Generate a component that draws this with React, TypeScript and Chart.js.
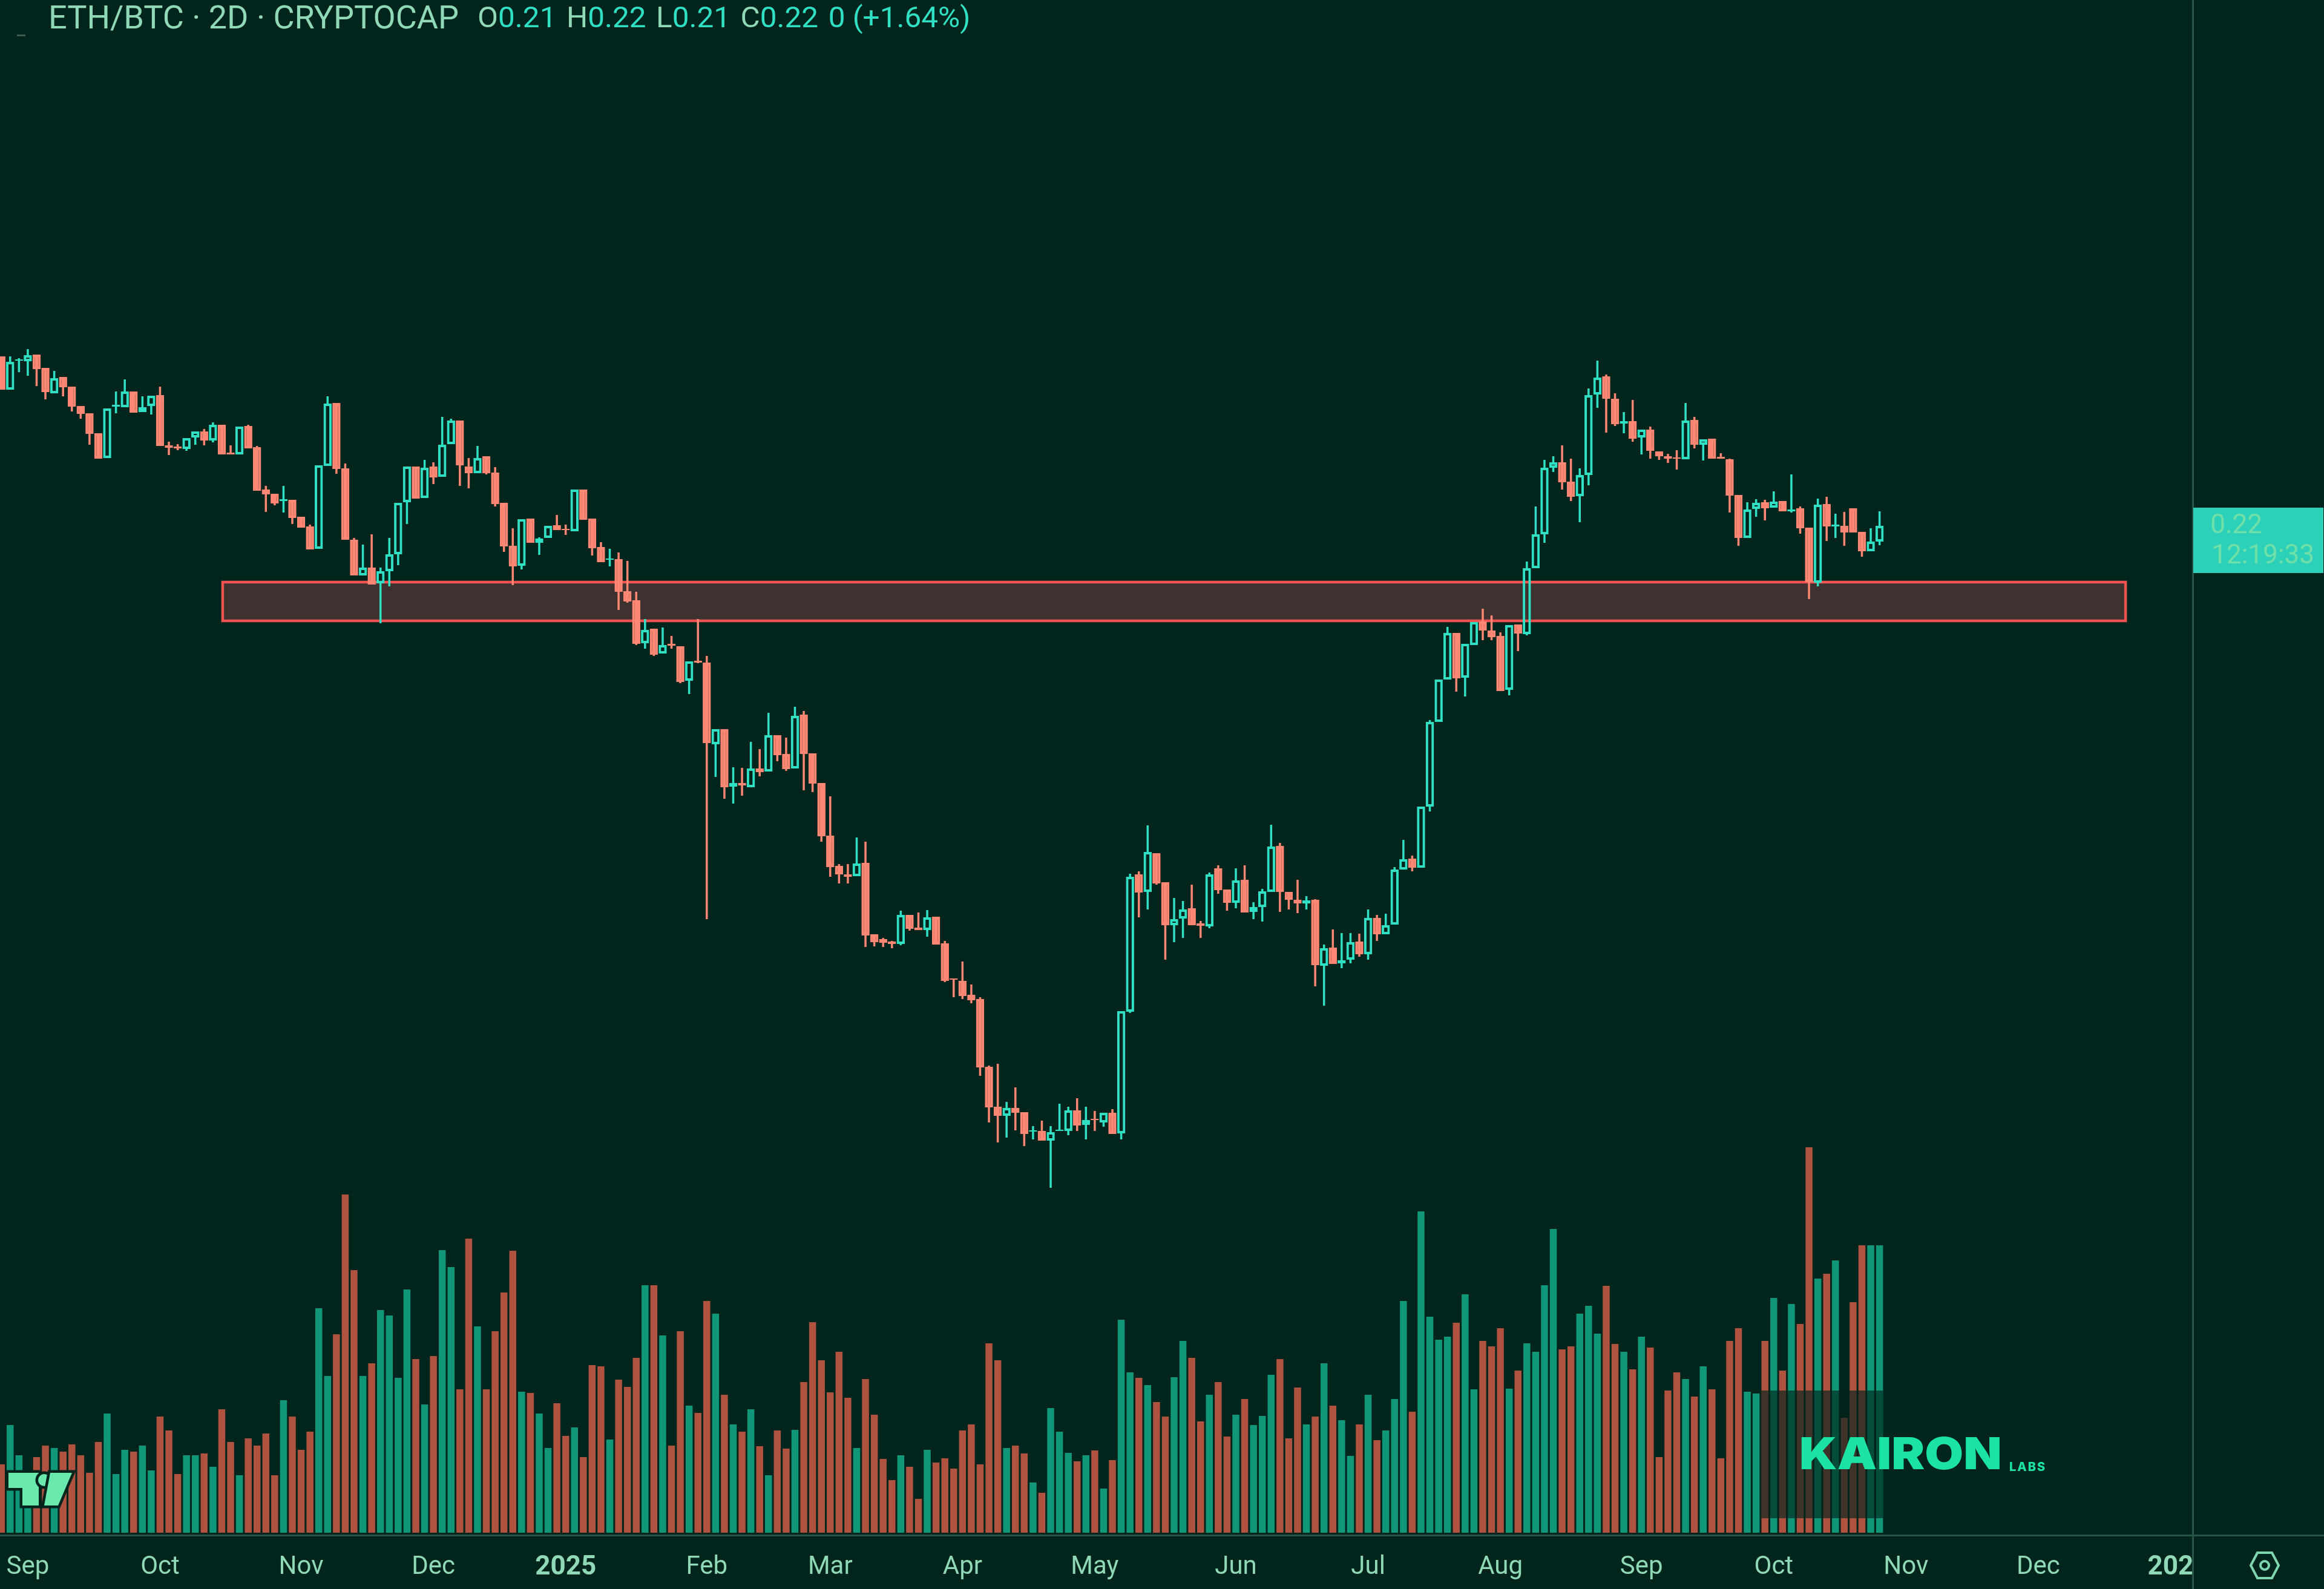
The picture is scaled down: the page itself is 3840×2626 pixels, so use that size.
import React, { useEffect, useRef } from "react";
import { Chart, registerables } from "chart.js";

Chart.register(...registerables);

// prices are in units of 0.0001, one bar every 2 days
const opens = [
  2481, 2426, 2474, 2473, 2484, 2462, 2420, 2447, 2431, 2399,
  2387, 2354, 2313, 2398, 2397, 2423, 2389, 2399, 2417, 2334,
  2332, 2328, 2347, 2357, 2342, 2368, 2322, 2319, 2366, 2331,
  2261, 2254, 2242, 2244, 2216, 2200, 2163, 2300, 2404, 2296,
  2178, 2119, 2132, 2106, 2126, 2154, 2240, 2299, 2247, 2299,
  2282, 2336, 2375, 2299, 2288, 2316, 2289, 2239, 2168, 2135,
  2213, 2173, 2181, 2202, 2196, 2192, 2261, 2213, 2166, 2145,
  2146, 2093, 2078, 2007, 2031, 1990, 2006, 2002, 1945, 1978,
  1975, 1840, 1865, 1770, 1776, 1769, 1800, 1795, 1855, 1824,
  1800, 1889, 1825, 1776, 1689, 1639, 1625, 1622, 1644, 1526,
  1518, 1514, 1510, 1558, 1537, 1533, 1555, 1511, 1453, 1449,
  1426, 1419, 1307, 1241, 1226, 1239, 1232, 1200, 1201, 1185,
  1201, 1201, 1235, 1211, 1221, 1215, 1231, 1197, 1398, 1625,
  1596, 1660, 1612, 1541, 1552, 1569, 1544, 1539, 1635, 1600,
  1578, 1616, 1563, 1571, 1596, 1672, 1596, 1583, 1577, 1583,
  1474, 1504, 1478, 1484, 1514, 1493, 1553, 1526, 1542, 1633,
  1651, 1636, 1737, 1877, 1947, 2024, 1950, 2004, 2043, 2028,
  2019, 1930, 2038, 2022, 2131, 2187, 2297, 2306, 2274, 2250,
  2285, 2418, 2448, 2411, 2370, 2374, 2347, 2360, 2324, 2316,
  2314, 2311, 2376, 2335, 2345, 2315, 2311, 2252, 2181, 2229,
  2240, 2231, 2242, 2225, 2230, 2198, 2107, 2237, 2200, 2201,
  2230, 2191, 2159, 2175,
];
const highs = [
  2481, 2481, 2478, 2493, 2484, 2462, 2457, 2447, 2431, 2399,
  2387, 2354, 2395, 2423, 2443, 2423, 2415, 2416, 2431, 2340,
  2336, 2346, 2357, 2361, 2372, 2368, 2334, 2365, 2368, 2333,
  2267, 2254, 2267, 2244, 2216, 2203, 2301, 2415, 2404, 2304,
  2181, 2170, 2187, 2132, 2181, 2239, 2299, 2299, 2310, 2306,
  2381, 2378, 2375, 2313, 2333, 2316, 2298, 2239, 2197, 2212,
  2213, 2182, 2201, 2219, 2203, 2261, 2261, 2213, 2174, 2163,
  2157, 2143, 2092, 2047, 2031, 2033, 2019, 2002, 1977, 2047,
  1986, 1865, 1865, 1802, 1801, 1844, 1832, 1892, 1855, 1851,
  1902, 1895, 1825, 1776, 1754, 1642, 1642, 1686, 1679, 1526,
  1520, 1515, 1565, 1558, 1562, 1566, 1555, 1515, 1453, 1481,
  1443, 1422, 1309, 1312, 1249, 1273, 1232, 1209, 1218, 1209,
  1246, 1241, 1255, 1241, 1234, 1231, 1237, 1399, 1626, 1630,
  1706, 1660, 1612, 1586, 1581, 1608, 1548, 1628, 1640, 1600,
  1635, 1640, 1579, 1601, 1707, 1677, 1596, 1616, 1589, 1584,
  1509, 1534, 1528, 1528, 1527, 1567, 1558, 1560, 1637, 1682,
  1656, 1737, 1880, 1947, 2034, 2024, 2006, 2042, 2064, 2053,
  2025, 2037, 2038, 2142, 2233, 2310, 2316, 2334, 2312, 2296,
  2428, 2474, 2451, 2420, 2389, 2409, 2360, 2365, 2324, 2320,
  2326, 2404, 2381, 2344, 2345, 2321, 2312, 2252, 2240, 2245,
  2244, 2258, 2242, 2286, 2233, 2198, 2246, 2249, 2221, 2224,
  2230, 2191, 2197, 2225,
];
const lows = [
  2426, 2426, 2455, 2449, 2432, 2410, 2420, 2415, 2390, 2378,
  2335, 2312, 2313, 2387, 2397, 2388, 2389, 2385, 2333, 2318,
  2326, 2325, 2335, 2334, 2339, 2319, 2319, 2319, 2329, 2259,
  2224, 2235, 2223, 2204, 2198, 2162, 2163, 2300, 2287, 2178,
  2119, 2119, 2104, 2040, 2101, 2136, 2204, 2246, 2247, 2270,
  2282, 2336, 2267, 2263, 2288, 2286, 2233, 2158, 2103, 2129,
  2173, 2153, 2181, 2194, 2186, 2192, 2211, 2152, 2141, 2134,
  2062, 2074, 2004, 1998, 1986, 1990, 1998, 1941, 1923, 1974,
  1551, 1786, 1750, 1742, 1755, 1769, 1787, 1795, 1812, 1796,
  1800, 1764, 1761, 1679, 1621, 1610, 1610, 1622, 1505, 1506,
  1505, 1503, 1508, 1532, 1533, 1522, 1509, 1447, 1422, 1419,
  1412, 1292, 1215, 1182, 1190, 1202, 1176, 1187, 1185, 1107,
  1201, 1194, 1201, 1187, 1201, 1208, 1196, 1187, 1396, 1554,
  1567, 1608, 1484, 1513, 1520, 1541, 1520, 1536, 1593, 1565,
  1569, 1562, 1551, 1547, 1596, 1563, 1567, 1561, 1567, 1440,
  1408, 1477, 1470, 1478, 1489, 1484, 1515, 1526, 1542, 1633,
  1630, 1636, 1729, 1877, 1947, 1927, 1919, 2004, 2012, 2012,
  1928, 1921, 1994, 2020, 2131, 2173, 2290, 2261, 2242, 2207,
  2268, 2396, 2355, 2366, 2354, 2340, 2319, 2312, 2310, 2305,
  2294, 2311, 2329, 2309, 2312, 2312, 2223, 2168, 2181, 2216,
  2210, 2231, 2225, 2223, 2188, 2080, 2101, 2176, 2181, 2168,
  2190, 2150, 2159, 2169,
];
const closes = [
  2426, 2472, 2476, 2483, 2460, 2422, 2445, 2430, 2398, 2386,
  2353, 2312, 2395, 2401, 2423, 2388, 2397, 2416, 2333, 2330,
  2329, 2346, 2357, 2342, 2368, 2319, 2319, 2365, 2329, 2259,
  2253, 2238, 2245, 2214, 2198, 2162, 2301, 2403, 2295, 2178,
  2119, 2132, 2104, 2126, 2154, 2239, 2299, 2246, 2297, 2281,
  2335, 2375, 2301, 2288, 2313, 2288, 2237, 2167, 2134, 2212,
  2173, 2180, 2201, 2194, 2194, 2261, 2211, 2164, 2141, 2147,
  2092, 2076, 2006, 2029, 1988, 2004, 2003, 1943, 1977, 1975,
  1842, 1865, 1769, 1776, 1772, 1800, 1794, 1855, 1822, 1799,
  1887, 1824, 1775, 1688, 1637, 1625, 1621, 1643, 1524, 1513,
  1512, 1510, 1558, 1535, 1533, 1554, 1509, 1449, 1451, 1424,
  1417, 1306, 1240, 1226, 1239, 1231, 1196, 1202, 1185, 1199,
  1203, 1235, 1210, 1219, 1219, 1231, 1196, 1399, 1621, 1595,
  1662, 1610, 1541, 1551, 1567, 1541, 1540, 1625, 1599, 1578,
  1615, 1562, 1571, 1597, 1671, 1596, 1583, 1577, 1582, 1475,
  1503, 1477, 1483, 1513, 1493, 1553, 1526, 1541, 1633, 1650,
  1636, 1737, 1877, 1947, 2024, 1949, 2006, 2042, 2028, 2017,
  1928, 2037, 2023, 2131, 2187, 2297, 2306, 2273, 2249, 2285,
  2417, 2446, 2411, 2369, 2374, 2345, 2360, 2325, 2316, 2312,
  2312, 2375, 2335, 2344, 2312, 2312, 2251, 2181, 2228, 2239,
  2230, 2241, 2225, 2228, 2197, 2108, 2236, 2200, 2203, 2190,
  2190, 2159, 2175, 2201,
];
const volumes = [
  113, 178, 128, 87, 125, 144, 140, 134, 146, 128,
  99, 150, 197, 97, 137, 134, 144, 103, 192, 169,
  97, 128, 128, 131, 109, 204, 150, 95, 156, 144,
  164, 95, 219, 192, 137, 167, 371, 259, 328, 559,
  434, 259, 280, 368, 359, 256, 402, 287, 212, 292,
  467, 439, 237, 486, 341, 237, 333, 397, 466, 233,
  231, 197, 140, 214, 160, 174, 125, 277, 275, 154,
  253, 241, 289, 409, 409, 326, 144, 333, 210, 198,
  383, 362, 228, 179, 167, 204, 143, 95, 169, 139,
  170, 249, 348, 285, 232, 299, 223, 140, 254, 195,
  122, 87, 128, 109, 56, 137, 116, 123, 106, 169,
  179, 113, 313, 285, 140, 144, 131, 83, 66, 206,
  167, 132, 118, 128, 136, 73, 120, 352, 265, 256,
  244, 216, 192, 257, 317, 289, 184, 228, 249, 159,
  195, 221, 178, 193, 261, 287, 156, 240, 179, 192,
  280, 210, 186, 127, 179, 228, 153, 169, 221, 383,
  200, 531, 357, 319, 324, 347, 394, 237, 317, 308,
  338, 238, 268, 313, 299, 409, 502, 303, 308, 362,
  375, 329, 408, 312, 299, 270, 324, 306, 125, 235,
  265, 254, 225, 275, 237, 123, 317, 338, 233, 230,
  317, 388, 268, 378, 345, 637, 420, 428, 450, 190,
  381, 475, 475, 475,
];

// bar numbers where the time axis labels sit
const tickBars = [3, 18, 34, 49, 64, 80, 94, 109, 124, 140, 155, 170, 186, 201, 216, 231, 246];
const tickLabels = ["Sep", "Oct", "Nov", "Dec", "2025", "Feb", "Mar", "Apr", "May", "Jun", "Jul", "Aug", "Sep", "Oct", "Nov", "Dec", "202"];
const boldLabels = ["2025", "202"];

// the marked zone: bars and price
const zoneBars = [25.1, 240.9];
const zonePrices = [2044, 2108];

const BG = "#01241c";
const UP = "#2fe0c4";
const DOWN = "#ff8773";
const VOL_UP = "#0f9777";
const VOL_DOWN = "#b05240";
const AXIS_TEXT = "#8fd9b6";
const LINE = "#265548";

const isUp = (i: number) => closes[i] >= opens[i];
const bars = opens.map((_, i) => i);

const zonePlugin = {
  id: "zone",
  beforeDatasetsDraw(chart: any) {
    const { ctx, scales } = chart;
    const x0 = scales.x.getPixelForValue(zoneBars[0]);
    const x1 = scales.x.getPixelForValue(zoneBars[1]);
    const y0 = scales.y.getPixelForValue(zonePrices[1]);
    const y1 = scales.y.getPixelForValue(zonePrices[0]);
    ctx.save();
    ctx.fillStyle = "#3d3230";
    ctx.fillRect(x0, y0, x1 - x0, y1 - y0);
    ctx.strokeStyle = "#ef5350";
    ctx.lineWidth = 4.5;
    ctx.strokeRect(x0, y0, x1 - x0, y1 - y0);
    ctx.restore();
  },
};

// watermark band that dims the last volume bars, and the pane lines
const framePlugin = {
  id: "frame",
  afterDatasetsDraw(chart: any) {
    const { ctx, scales } = chart;
    const x0 = scales.x.getPixelForValue(199.6);
    const x1 = scales.x.getPixelForValue(213.4);
    const y0 = scales.yVol.getPixelForValue(235);
    const y1 = scales.yVol.getPixelForValue(24);
    ctx.save();
    ctx.fillStyle = "rgba(1, 36, 28, 0.65)";
    ctx.fillRect(x0, y0, x1 - x0, y1 - y0);
    ctx.restore();
  },
  afterDraw(chart: any) {
    const { ctx, chartArea, width, height } = chart;
    ctx.save();
    ctx.fillStyle = LINE;
    ctx.fillRect(chartArea.right, 0, 3, height);
    ctx.fillRect(0, chartArea.bottom + 3, width, 3);
    ctx.restore();
  },
};

const textBase: React.CSSProperties = {
  position: "absolute",
  whiteSpace: "nowrap",
  fontFamily: "Roboto, sans-serif",
  lineHeight: 1,
};

const Pair = ({ letter, value }: { letter: string; value: string }) => (
  <span style={{ marginRight: 16 }}>
    <span style={{ color: AXIS_TEXT }}>{letter}</span>
    {value}
  </span>
);

export default function App() {
  const canvasRef = useRef<HTMLCanvasElement | null>(null);

  useEffect(() => {
    if (!canvasRef.current) return;

    const chart = new Chart(canvasRef.current, {
      type: "bar",
      data: {
        datasets: [
          {
            label: "Volume",
            data: bars.map((i) => ({ x: i, y: volumes[i] })),
            yAxisID: "yVol",
            order: 4,
            grouped: false,
            barThickness: 11.5,
            inflateAmount: 0,
            backgroundColor: bars.map((i) => (isUp(i) ? VOL_UP : VOL_DOWN)),
          },
          {
            label: "Upper wick",
            data: bars.map((i) => ({ x: i, y: [Math.max(opens[i], closes[i]), highs[i]] })),
            order: 3,
            grouped: false,
            barThickness: 3.5,
            inflateAmount: 0,
            backgroundColor: bars.map((i) => (isUp(i) ? UP : DOWN)),
          },
          {
            label: "Lower wick",
            data: bars.map((i) => ({ x: i, y: [lows[i], Math.min(opens[i], closes[i])] })),
            order: 2,
            grouped: false,
            barThickness: 3.5,
            inflateAmount: 0,
            backgroundColor: bars.map((i) => (isUp(i) ? UP : DOWN)),
          },
          {
            label: "Body",
            data: bars.map((i) => ({ x: i, y: [opens[i], closes[i]] })),
            order: 1,
            grouped: false,
            barThickness: 13.5,
            inflateAmount: 0,
            borderSkipped: false,
            borderWidth: 4,
            borderColor: bars.map((i) => (isUp(i) ? UP : DOWN)),
            backgroundColor: bars.map((i) => (isUp(i) ? "transparent" : DOWN)),
          },
        ] as any,
      },
      options: {
        animation: false,
        responsive: false,
        devicePixelRatio: 1,
        layout: { autoPadding: false, padding: { right: 218 } },
        plugins: { legend: { display: false }, tooltip: { enabled: false } },
        scales: {
          x: {
            type: "linear",
            offset: false,
            min: -0.151,
            max: 248.44,
            // invisible tick marks push the labels down; tick padding would shrink the plot
            grid: { display: true, drawOnChartArea: false, drawTicks: true, tickLength: 32, tickColor: "transparent" },
            border: { display: false },
            afterBuildTicks: (scale: any) => {
              scale.ticks = tickBars.map((value) => ({ value }));
            },
            afterFit: (scale: any) => {
              scale.height = 93;
            },
            ticks: {
              autoSkip: false,
              maxRotation: 0,
              padding: 0,
              color: AXIS_TEXT,
              callback: (_value: any, index: number) => tickLabels[index],
              font: (ctx: any) => ({
                family: "Roboto, sans-serif",
                size: boldLabels.includes(ctx.tick?.label) ? 44 : 42,
                weight: boldLabels.includes(ctx.tick?.label) ? "700" : "400",
              }),
            },
          },
          y: { display: false, min: 537, max: 3070 },
          yVol: { display: false, min: 0, max: 2533 },
        },
      } as any,
      plugins: [zonePlugin, framePlugin],
    });

    return () => {
      chart.destroy();
    };
  }, []);

  return (
    <div style={{ position: "absolute", left: 0, top: 0, width: 3840, height: 2626, background: BG, overflow: "hidden" }}>
      <canvas ref={canvasRef} width={3840} height={2626} style={{ display: "block" }} />

      <div style={{ position: "absolute", left: 28, top: 57, width: 14, height: 3, background: "#3d5a50" }} />
      <div style={{ ...textBase, left: 80, top: 2, fontSize: 54, color: AXIS_TEXT }}>
        ETH/BTC · 2D · CRYPTOCAP
      </div>
      <div style={{ ...textBase, left: 789, top: 5, fontSize: 48, color: UP, transform: "scaleX(1.03)", transformOrigin: "left top" }}>
        <Pair letter="O" value="0.21" />
        <Pair letter="H" value="0.22" />
        <Pair letter="L" value="0.21" />
        <Pair letter="C" value="0.22" />
        <span>0 (+1.64%)</span>
      </div>

      <div style={{ position: "absolute", left: 3624, top: 839, width: 215, height: 108, background: "#2dd0b8" }} />
      <div style={{ ...textBase, left: 3652, top: 844, fontSize: 44, color: "#6fe0a8" }}>0.22</div>
      <div style={{ ...textBase, left: 3654, top: 894, fontSize: 44, color: "#6fe0a8" }}>12:19:33</div>

      <svg width={3840} height={2626} style={{ position: "absolute", left: 0, top: 0 }}>
        <g fill="#69e9ae" stroke={BG} strokeWidth={9} paintOrder="stroke" strokeLinejoin="miter">
          <polygon points="14,2434 64,2434 64,2488 37,2488 37,2459 14,2459" />
          <circle cx={73} cy={2446} r={10} />
          <polygon points="83,2434 119,2434 96,2488 73,2488" />
        </g>
        <g fill="none" stroke="#7ed6b0" strokeWidth={4}>
          <polygon points="3719,2587 3730,2566 3754,2566 3765,2587 3754,2608 3730,2608" />
          <circle cx={3742} cy={2587} r={7} />
        </g>
      </svg>

      <div style={{ ...textBase, left: 2973, top: 2365, fontSize: 73, fontWeight: 900, fontFamily: "Inter, sans-serif", color: "#1ae3a5", transform: "scaleX(1.13)", transformOrigin: "left top" }}>
        KAIRON
      </div>
      <div style={{ ...textBase, left: 3320, top: 2414, fontSize: 20, fontWeight: 800, fontFamily: "Inter, sans-serif", color: "#1ae3a5", letterSpacing: 2 }}>
        LABS
      </div>
    </div>
  );
}
